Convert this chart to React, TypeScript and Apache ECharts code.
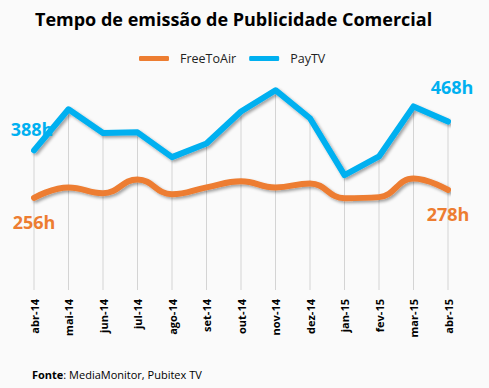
import React, { useEffect, useRef } from "react";
import * as echarts from "echarts";

const categories = ["abr-14", "mai-14", "jun-14", "jul-14", "ago-14", "set-14", "out-14", "nov-14", "dez-14", "jan-15", "fev-15", "mar-15", "abr-15"];
const freeToAir = [256, 285, 269, 307, 266, 285, 302, 285, 296, 255, 258, 310, 278];
const payTV = [388, 502, 436, 438, 369, 407, 496, 555, 477, 319, 371, 510, 468];

const ORANGE = "#ED7D31";
const BLUE = "#00B0F0";
const FONT = "Open Sans";

function withEndLabels(values: number[], color: string, firstOffset: number[], lastOffset: number[]) {
  return values.map((v, i) => {
    if (i === 0 || i === values.length - 1) {
      return {
        value: v,
        label: {
          show: true,
          position: "inside",
          formatter: "{c}h",
          color,
          fontSize: 18,
          fontWeight: "bold",
          fontFamily: FONT,
          offset: i === 0 ? firstOffset : lastOffset,
        },
      };
    }
    return v;
  });
}

export default function App() {
  const ref = useRef<HTMLDivElement>(null);
  useEffect(() => {
    if (!ref.current) return;
    const chart = echarts.init(ref.current, null, { renderer: "svg" });
    const shadow = {
      shadowColor: "rgba(0,0,0,0.35)",
      shadowBlur: 3,
      shadowOffsetX: 2,
      shadowOffsetY: 2,
    };
    chart.setOption({
      animation: false,
      backgroundColor: "#fafafa",
      title: {
        text: "Tempo de emissão de Publicidade Comercial",
        left: 30,
        top: 5,
        textStyle: { fontFamily: FONT, fontSize: 18, fontWeight: "bold", color: "#000" },
      },
      legend: {
        data: ["FreeToAir", "PayTV"],
        top: 47,
        left: 134,
        icon: "roundRect",
        itemWidth: 30,
        itemHeight: 5,
        itemGap: 13,
        textStyle: { fontFamily: FONT, fontSize: 12.5, color: "#222", padding: [0, 0, 0, 6] },
      },
      grid: { left: 34, right: 41, top: 74, bottom: 98 },
      xAxis: {
        type: "category",
        data: categories,
        boundaryGap: false,
        axisLine: { show: false },
        axisTick: { show: false },
        splitLine: { show: false },
        axisLabel: {
          rotate: 90,
          margin: 9,
          fontFamily: FONT,
          fontSize: 11,
          fontWeight: "bold",
          color: "#000",
        },
      },
      yAxis: {
        type: "value",
        min: 0,
        max: 600,
        show: false,
        splitLine: { show: false },
      },
      series: [
        {
          name: "drop",
          type: "bar",
          data: payTV,
          barWidth: 1,
          itemStyle: { color: "#d4d4d4" },
          z: 1,
          silent: true,
        },
        {
          name: "FreeToAir",
          type: "line",
          data: withEndLabels(freeToAir, ORANGE, [0, 24], [0, 24]),
          smooth: 0.45,
          symbol: "circle",
          symbolSize: 0,
          showSymbol: true,
          itemStyle: { color: ORANGE },
          lineStyle: { color: ORANGE, width: 6, cap: "round", join: "round", ...shadow },
          z: 3,
        },
        {
          name: "PayTV",
          type: "line",
          data: withEndLabels(payTV, BLUE, [-2, -21], [4, -35]),
          symbol: "circle",
          symbolSize: 0,
          showSymbol: true,
          itemStyle: { color: BLUE },
          lineStyle: { color: BLUE, width: 6, cap: "round", join: "round", ...shadow },
          z: 4,
        },
      ],
      graphic: [
        {
          type: "text",
          left: 32,
          top: 369,
          style: {
            text: "{b|Fonte}: MediaMonitor, Pubitex TV",
            fontFamily: FONT,
            fontSize: 11,
            fill: "#000",
            rich: { b: { fontWeight: "bold", fontFamily: FONT, fontSize: 11, fill: "#000" } },
          },
        },
      ],
    });
    return () => chart.dispose();
  }, []);
  return <div ref={ref} style={{ position: "fixed", left: 0, top: 0, width: 489, height: 388 }} />;
}
